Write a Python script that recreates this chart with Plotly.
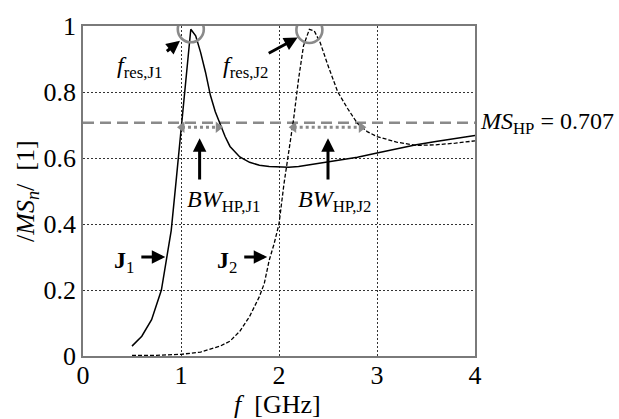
import plotly.graph_objects as go

# ---- data ----
f_j1 = [0.5, 0.6, 0.7, 0.8, 0.85, 0.9, 0.95, 1.0, 1.05, 1.1, 1.15, 1.2, 1.25, 1.3, 1.35, 1.4,
        1.45, 1.5, 1.6, 1.7, 1.8, 1.9, 2.0, 2.1, 2.2, 2.4, 2.6, 2.8, 3.0, 3.2, 3.4, 3.6, 3.8, 4.0]
ms_j1 = [0.03, 0.06, 0.11, 0.2, 0.29, 0.38, 0.53, 0.69, 0.84, 0.99, 0.97, 0.92, 0.86, 0.79, 0.74, 0.70,
         0.665, 0.635, 0.603, 0.587, 0.578, 0.574, 0.572, 0.572, 0.574, 0.583, 0.592, 0.602, 0.615, 0.628,
         0.64, 0.65, 0.66, 0.668]

f_j2 = [0.5, 0.75, 1.0, 1.2, 1.4, 1.5, 1.6, 1.7, 1.8, 1.85, 1.9, 1.95, 2.0, 2.05, 2.1, 2.15, 2.2, 2.25,
        2.31, 2.36, 2.42, 2.5, 2.6, 2.7, 2.8, 2.9, 3.0, 3.2, 3.4, 3.6, 3.8, 4.0]
ms_j2 = [0.002, 0.002, 0.005, 0.012, 0.03, 0.045, 0.075, 0.12, 0.18, 0.22, 0.29, 0.34, 0.40, 0.52,
         0.62, 0.72, 0.84, 0.94, 0.99, 0.985, 0.95, 0.88, 0.80, 0.75, 0.705, 0.68, 0.665, 0.648, 0.638,
         0.64, 0.645, 0.652]

ms_hp = 0.707
f_res = [1.10, 2.31]
ms_res = [0.99, 0.988]
bw_j1 = [1.01, 1.38]
bw_j2 = [2.15, 2.84]
bw_level = 0.693

x_ticks = [0, 1, 2, 3, 4]
x_ticktext = ["0", "1", "2", "3", "4"]
y_ticks = [0, 0.2, 0.4, 0.6, 0.8, 1.0]
y_ticktext = ["0", "0.2", "0.4", "0.6", "0.8", "1"]

FONT = "Liberation Serif"
GRAY = "#8a8a8a"

fig = go.Figure()

# half-power level line
fig.add_trace(go.Scatter(x=[0, 4], y=[ms_hp, ms_hp], mode="lines",
                         line=dict(color=GRAY, width=2.6, dash="11px,6px"),
                         showlegend=False, hoverinfo="skip"))

fig.add_trace(go.Scatter(x=f_j1, y=ms_j1, mode="lines",
                         line=dict(color="black", width=1.5), showlegend=False))
fig.add_trace(go.Scatter(x=f_j2, y=ms_j2, mode="lines",
                         line=dict(color="black", width=1.3, dash="4px,2px"), showlegend=False))

# bandwidth double arrows (dotted gray)
for bw in (bw_j1, bw_j2):
    fig.add_trace(go.Scatter(x=bw, y=[bw_level, bw_level], mode="lines",
                             line=dict(color=GRAY, width=3, dash="3px,3px"),
                             showlegend=False, hoverinfo="skip"))
    fig.add_trace(go.Scatter(x=bw, y=[bw_level, bw_level], mode="markers",
                             marker=dict(symbol=["triangle-left", "triangle-right"], size=10,
                                         color=GRAY, line=dict(width=0)),
                             showlegend=False, hoverinfo="skip"))

# resonance circles
for fx, my in zip(f_res, ms_res):
    fig.add_shape(type="circle", xref="x", yref="y", xsizemode="pixel", ysizemode="pixel",
                  xanchor=fx, yanchor=my, x0=-13, x1=13, y0=-13, y1=13,
                  line=dict(color=GRAY, width=2.6))

ann_font = dict(family=FONT, size=24, color="black")

def arrow(x, y, ax, ay):
    fig.add_annotation(x=x, y=y, ax=ax, ay=ay, xref="x", yref="y", axref="x", ayref="y",
                       text="", showarrow=True, arrowhead=2, arrowsize=0.9,
                       arrowwidth=3, arrowcolor="black")

# f_res arrows and labels
arrow(0.99, 0.955, 0.84, 0.92)
arrow(2.19, 0.965, 1.88, 0.915)
fig.add_annotation(x=0.58, y=0.875, xref="x", yref="y", showarrow=False,
                   text="<i>f</i><sub>res,J1</sub>", font=ann_font)
fig.add_annotation(x=1.66, y=0.875, xref="x", yref="y", showarrow=False,
                   text="<i>f</i><sub>res,J2</sub>", font=ann_font)

# BW arrows and labels
arrow(1.19, 0.66, 1.19, 0.53)
arrow(2.50, 0.66, 2.50, 0.53)
fig.add_annotation(x=1.43, y=0.47, xref="x", yref="y", showarrow=False,
                   text="<i>BW</i><sub>HP,J1</sub>", font=ann_font)
fig.add_annotation(x=2.57, y=0.47, xref="x", yref="y", showarrow=False,
                   text="<i>BW</i><sub>HP,J2</sub>", font=ann_font)

# J1 / J2 labels
arrow(0.84, 0.30, 0.58, 0.30)
arrow(1.88, 0.30, 1.63, 0.30)
fig.add_annotation(x=0.42, y=0.285, xref="x", yref="y", showarrow=False,
                   text="<b>J</b><sub>1</sub>", font=ann_font)
fig.add_annotation(x=1.47, y=0.285, xref="x", yref="y", showarrow=False,
                   text="<b>J</b><sub>2</sub>", font=ann_font)

# MS_HP label (right of the plot area, at the half-power level)
fig.add_annotation(x=1.008, y=ms_hp, xref="paper", yref="y", xanchor="left", yanchor="middle",
                   showarrow=False, text="<i>MS</i><sub>HP</sub> = 0.707", font=ann_font)

# axis titles
fig.add_annotation(x=-0.143, y=0.5, xref="paper", yref="paper", textangle=-90,
                   xanchor="center", yanchor="middle",
                   showarrow=False, text="/<i>MS<sub>n</sub></i>/  [1]",
                   font=dict(family=FONT, size=26, color="black"))
fig.add_annotation(x=0.497, y=-0.148, xref="paper", yref="paper",
                   xanchor="center", yanchor="middle", showarrow=False,
                   text="<i>f</i>  [GHz]", font=dict(family=FONT, size=26, color="black"))

axis_common = dict(showline=True, mirror=True, linecolor="#7a7a7a", linewidth=1.5,
                   showgrid=True, gridcolor="#333333", gridwidth=1, griddash="2px,2px",
                   zeroline=False, ticks="", tickfont=dict(family=FONT, size=26, color="black"))

fig.update_xaxes(range=[0, 4], tickvals=x_ticks, ticktext=x_ticktext,
                 ticklabelstandoff=-5, **axis_common)
fig.update_yaxes(range=[0, 1], tickvals=y_ticks, ticktext=y_ticktext, **axis_common)

fig.update_layout(width=619, height=419, margin=dict(l=83, r=144, t=21, b=63),
                  plot_bgcolor="white", paper_bgcolor="white", showlegend=False,
                  font=dict(family=FONT))

fig.write_html("out.html")
